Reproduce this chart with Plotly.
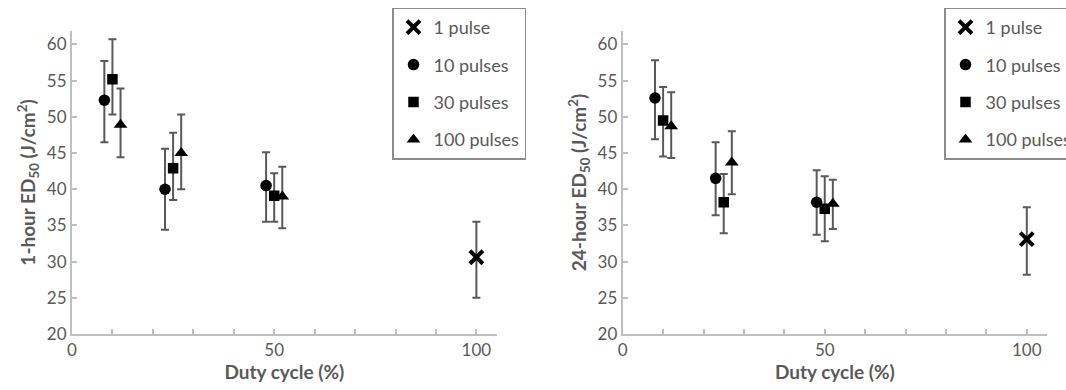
import plotly.graph_objects as go

# ---------------- data ----------------
duty_1 = [100]
duty_10 = [8, 23, 48]
duty_30 = [10, 25, 50]
duty_100 = [12, 27, 52]

# 1-hour ED50 (J/cm2): value, upper bound, lower bound
h1_p1 = [30.6];             h1_p1_hi = [35.5];             h1_p1_lo = [25.0]
h1_p10 = [52.3, 40.0, 40.5]; h1_p10_hi = [57.7, 45.6, 45.1]; h1_p10_lo = [46.5, 34.4, 35.5]
h1_p30 = [55.2, 42.9, 39.1]; h1_p30_hi = [60.7, 47.8, 42.2]; h1_p30_lo = [50.3, 38.5, 35.5]
h1_p100 = [48.9, 45.0, 39.0]; h1_p100_hi = [53.9, 50.3, 43.1]; h1_p100_lo = [44.4, 40.0, 34.6]

# 24-hour ED50 (J/cm2)
h24_p1 = [33.1];             h24_p1_hi = [37.5];             h24_p1_lo = [28.2]
h24_p10 = [52.6, 41.5, 38.2]; h24_p10_hi = [57.8, 46.5, 42.6]; h24_p10_lo = [46.9, 36.4, 33.7]
h24_p30 = [49.5, 38.2, 37.3]; h24_p30_hi = [54.1, 42.1, 41.8]; h24_p30_lo = [44.5, 33.9, 32.8]
h24_p100 = [48.7, 43.7, 38.0]; h24_p100_hi = [53.4, 48.0, 41.3]; h24_p100_lo = [44.3, 39.3, 34.5]

series_names = ["1 pulse", "10 pulses", "30 pulses", "100 pulses"]

# ---------------- style ----------------
FONT = "Lato"
TXT = "#595959"
AXC = "#BFBFBF"
ERRC = "#595959"

fig = go.Figure()

def add_series(x, y, hi, lo, name, symbol, size, xaxis, yaxis, legend, group):
    plus = [h - v for h, v in zip(hi, y)]
    minus = [v - l for v, l in zip(y, lo)]
    if symbol == "x-thin":
        marker = dict(symbol="x-thin", size=size, color="black",
                      line=dict(color="black", width=4))
    else:
        marker = dict(symbol=symbol, size=size, color="black",
                      line=dict(width=0))
    fig.add_trace(go.Scatter(
        x=x, y=y, mode="markers", name=name, marker=marker,
        error_y=dict(type="data", symmetric=False, array=plus, arrayminus=minus,
                     color=ERRC, thickness=2, width=4),
        xaxis=xaxis, yaxis=yaxis, legend=legend, legendgroup=group,
    ))

panels = [
    ("x", "y", "legend", (h1_p1, h1_p1_hi, h1_p1_lo), (h1_p10, h1_p10_hi, h1_p10_lo),
     (h1_p30, h1_p30_hi, h1_p30_lo), (h1_p100, h1_p100_hi, h1_p100_lo), "a"),
    ("x2", "y2", "legend2", (h24_p1, h24_p1_hi, h24_p1_lo), (h24_p10, h24_p10_hi, h24_p10_lo),
     (h24_p30, h24_p30_hi, h24_p30_lo), (h24_p100, h24_p100_hi, h24_p100_lo), "b"),
]

for xa, ya, lg, s1, s10, s30, s100, tag in panels:
    add_series(duty_1, *s1, series_names[0], "x-thin", 13, xa, ya, lg, tag + "1")
    add_series(duty_10, *s10, series_names[1], "circle", 11.5, xa, ya, lg, tag + "10")
    add_series(duty_30, *s30, series_names[2], "square", 10.5, xa, ya, lg, tag + "30")
    add_series(duty_100, *s100, series_names[3], "triangle-up", 12, xa, ya, lg, tag + "100")

W, H = 1066, 390
y_dom = [(H - 334) / H, (H - 31) / H]

xaxis_common = dict(
    range=[0, 105], tickmode="linear", tick0=0, dtick=50,
    showline=True, linecolor=AXC, linewidth=2,
    ticks="inside", ticklen=5, tickwidth=1.5, tickcolor=AXC,
    minor=dict(dtick=10, tick0=0, ticks="inside", ticklen=5, tickwidth=1.5, tickcolor=AXC),
    showgrid=False, zeroline=False,
    tickfont=dict(family=FONT, size=17, color=TXT),
    title=dict(text="<b>Duty cycle (%)</b>", font=dict(family=FONT, size=19, color=TXT), standoff=6),
)
yaxis_common = dict(
    range=[20, 61.85], tickmode="linear", tick0=20, dtick=5,
    showline=True, linecolor=AXC, linewidth=2,
    ticks="inside", ticklen=5, tickwidth=1.5, tickcolor=AXC,
    showgrid=False, zeroline=False,
    tickfont=dict(family=FONT, size=17, color=TXT),
    domain=y_dom,
)

legend_common = dict(
    bgcolor="white", bordercolor="#8C8C8C", borderwidth=1.5,
    font=dict(family=FONT, size=18, color=TXT),
    xanchor="left", yanchor="top", traceorder="grouped", tracegroupgap=11,
    itemsizing="trace",
)

fig.update_layout(
    width=W, height=H,
    margin=dict(l=0, r=0, t=0, b=0, autoexpand=False),
    paper_bgcolor="white", plot_bgcolor="white",
    font=dict(family=FONT, color=TXT),
    xaxis=dict(xaxis_common, domain=[72 / W, 496.6 / W], anchor="y"),
    yaxis=dict(yaxis_common, anchor="x",
               title=dict(text="<b>1-hour ED<sub>50</sub> (J/cm<sup>2</sup>)</b>",
                          font=dict(family=FONT, size=19, color=TXT), standoff=6)),
    xaxis2=dict(xaxis_common, domain=[622.7 / W, 1047 / W], anchor="y2"),
    yaxis2=dict(yaxis_common, anchor="x2",
                title=dict(text="<b>24-hour ED<sub>50</sub> (J/cm<sup>2</sup>)</b>",
                           font=dict(family=FONT, size=19, color=TXT), standoff=6)),
    legend=dict(legend_common, x=392 / W, y=1 - 7.5 / H),
    legend2=dict(legend_common, x=944 / W, y=1 - 7.5 / H),
    showlegend=True,
)

fig.write_html("out.html")
